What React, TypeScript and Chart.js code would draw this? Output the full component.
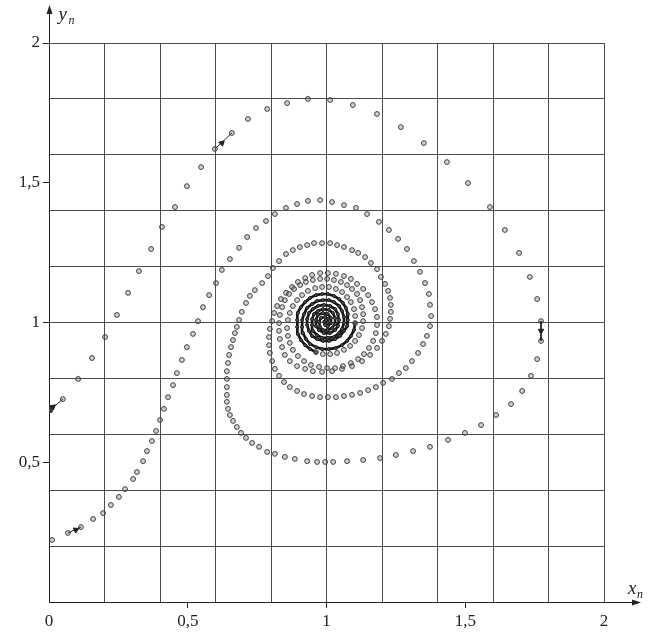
import React, { useEffect, useRef } from "react";
import { Chart, registerables } from "chart.js";

Chart.register(...registerables);

// Axis ticks (grid every 0,2; labels every 0,5)
const tickValues = [0, 0.2, 0.4, 0.5, 0.6, 0.8, 1, 1.2, 1.4, 1.5, 1.6, 1.8, 2];
const xLabelValues = [0, 0.5, 1, 1.5, 2];
const xLabelTexts = ["0", "0,5", "1", "1,5", "2"];
const yLabelValues = [0.5, 1, 1.5, 2];
const yLabelTexts = ["0,5", "1", "1,5", "2"];

// Trajectory A (starts at x≈0, y≈0,69) - individually visible points
const aOuterX = [0.004,0.050,0.105,0.155,0.202,0.245,0.285,0.324,0.368,0.407,0.454,0.497,0.548,0.598,0.659,0.717,0.786,0.858,0.933,1.013,1.095,1.182,1.268,1.351,1.434,1.510,1.589,1.643,1.694,1.733,1.759,1.773,1.773,1.759,1.737,1.705,1.665,1.611,1.557,1.499,1.438,1.373,1.312,1.250,1.193,1.132,1.074,1.024,0.995,0.966,0.930,0.886,0.850,0.814,0.786,0.757,0.732,0.710,0.692,0.677,0.663,0.652,0.645,0.641,0.641,0.641,0.641,0.641,0.645,0.649,0.656,0.663,0.670,0.677,0.685,0.695,0.710,0.724,0.742,0.768,0.789,0.807,0.829,0.854,0.879,0.904,0.930,0.955,0.984,1.013,1.038,1.063,1.092,1.114,1.139,1.160,1.182,1.196,1.211,1.222,1.229,1.232,1.232,1.229,1.225,1.214,1.200,1.182,1.157,1.128,1.092,1.056,1.020,0.984,0.951,0.923,0.894,0.868,0.850,0.840,0.832,0.829,0.829,0.832,0.840,0.850,0.865,0.883,0.905,0.926,0.951,0.977,1.002,1.027,1.052,1.074,1.092,1.110,1.121,1.128,1.132,1.132,1.128,1.117,1.103,1.085,1.063,1.038,1.013,0.987,0.962];
const aOuterY = [0.687,0.726,0.798,0.873,0.948,1.027,1.106,1.184,1.263,1.342,1.413,1.488,1.556,1.621,1.678,1.728,1.764,1.785,1.800,1.796,1.778,1.746,1.699,1.642,1.574,1.499,1.413,1.331,1.249,1.163,1.084,1.005,0.934,0.869,0.809,0.755,0.708,0.669,0.633,0.605,0.580,0.555,0.540,0.526,0.515,0.508,0.504,0.501,0.501,0.501,0.504,0.512,0.519,0.530,0.537,0.555,0.569,0.587,0.605,0.626,0.648,0.669,0.691,0.716,0.741,0.769,0.798,0.826,0.855,0.884,0.912,0.937,0.962,0.984,1.009,1.038,1.070,1.095,1.116,1.141,1.166,1.195,1.220,1.245,1.259,1.270,1.277,1.284,1.284,1.284,1.277,1.270,1.259,1.249,1.234,1.213,1.191,1.163,1.138,1.113,1.088,1.063,1.038,1.013,0.987,0.959,0.934,0.909,0.884,0.862,0.844,0.834,0.826,0.823,0.826,0.834,0.844,0.862,0.884,0.912,0.941,0.970,0.998,1.027,1.055,1.080,1.102,1.120,1.134,1.145,1.152,1.156,1.156,1.152,1.145,1.134,1.120,1.102,1.080,1.055,1.030,1.005,0.980,0.955,0.934,0.916,0.902,0.891,0.887,0.887,0.894];

// Trajectory A - dense centre (points merge into a thick curve)
const aInnerX = [0.962,0.941,0.923,0.908,0.897,0.894,0.894,0.897,0.908,0.923,0.941,0.962,0.984,1.005,1.027,1.045,1.059,1.070,1.077,1.077,1.074,1.063,1.049,1.031,1.009,0.987,0.966,0.948,0.937,0.930,0.930,0.937,0.951,0.969,0.991,1.013,1.031,1.041,1.045,1.041,1.031,1.013,0.991,0.973,0.962,0.962,0.969,0.987,1.005,1.016,1.016,1.005,0.995,0.991,0.998];
const aInnerY = [0.894,0.905,0.919,0.937,0.959,0.984,1.009,1.034,1.055,1.073,1.088,1.098,1.102,1.102,1.095,1.084,1.070,1.052,1.030,1.009,0.987,0.970,0.952,0.941,0.934,0.934,0.941,0.952,0.970,0.991,1.012,1.034,1.048,1.059,1.063,1.059,1.048,1.030,1.009,0.987,0.973,0.962,0.962,0.973,0.987,1.009,1.027,1.034,1.030,1.016,0.998,0.987,0.991,1.002,1.009];

// Trajectory B (starts at x≈0, y≈0,22)
const bOuterX = [0.011,0.068,0.115,0.159,0.195,0.223,0.252,0.274,0.303,0.317,0.339,0.353,0.371,0.386,0.400,0.414,0.429,0.447,0.461,0.479,0.497,0.519,0.537,0.555,0.577,0.602,0.623,0.652,0.685,0.714,0.746,0.782,0.814,0.854,0.894,0.933,0.977,1.020,1.063,1.106,1.146,1.189,1.225,1.258,1.290,1.315,1.337,1.355,1.369,1.373,1.377,1.373,1.362,1.348,1.330,1.308,1.286,1.261,1.236,1.204,1.178,1.150,1.121,1.092,1.063,1.034,1.005,0.977,0.948,0.919,0.894,0.868,0.847,0.829,0.814,0.804,0.796,0.793,0.793,0.796,0.804,0.811,0.822,0.836,0.854,0.876,0.897,0.923,0.948,0.977,1.005,1.034,1.063,1.088,1.110,1.132,1.150,1.164,1.175,1.182,1.182,1.178,1.168,1.153,1.135,1.114,1.088,1.059,1.031,1.002,0.973,0.944,0.919,0.897,0.879,0.868,0.861,0.858,0.861,0.868,0.879,0.894,0.912,0.933,0.959,0.984,1.009,1.034,1.056,1.074,1.088,1.099,1.103,1.103];
const bOuterY = [0.222,0.247,0.268,0.297,0.318,0.347,0.376,0.404,0.440,0.465,0.504,0.540,0.576,0.612,0.651,0.691,0.733,0.776,0.819,0.866,0.912,0.959,1.005,1.055,1.098,1.141,1.188,1.227,1.267,1.306,1.338,1.363,1.388,1.410,1.424,1.435,1.438,1.431,1.420,1.410,1.388,1.360,1.331,1.299,1.263,1.220,1.181,1.141,1.102,1.063,1.023,0.987,0.952,0.923,0.891,0.862,0.837,0.819,0.798,0.784,0.769,0.758,0.748,0.741,0.737,0.733,0.733,0.733,0.737,0.744,0.755,0.769,0.787,0.809,0.834,0.862,0.891,0.919,0.948,0.977,1.005,1.034,1.059,1.084,1.106,1.127,1.145,1.159,1.170,1.177,1.177,1.174,1.166,1.156,1.138,1.120,1.098,1.073,1.048,1.020,0.991,0.962,0.934,0.909,0.887,0.869,0.855,0.844,0.837,0.837,0.841,0.848,0.862,0.880,0.902,0.927,0.952,0.980,1.009,1.034,1.059,1.080,1.098,1.113,1.123,1.127,1.127,1.120,1.109,1.091,1.073,1.048,1.023,0.998];

// Trajectory B - dense centre
const bInnerX = [1.103,1.099,1.088,1.074,1.056,1.034,1.009,0.984,0.962,0.941,0.926,0.915,0.912,0.912,0.919,0.930,0.948,0.966,0.987,1.009,1.027,1.045,1.056,1.063,1.063,1.056,1.045,1.027,1.005,0.984,0.966,0.951,0.948,0.948,0.955,0.969,0.987,1.009,1.023,1.031,1.031,1.020,1.005,0.987,0.977,0.973,0.980,0.995,1.005,1.005,0.998];
const bInnerY = [0.998,0.973,0.952,0.934,0.919,0.909,0.905,0.905,0.912,0.923,0.941,0.962,0.984,1.009,1.030,1.052,1.066,1.077,1.080,1.080,1.073,1.059,1.041,1.020,0.998,0.977,0.962,0.948,0.945,0.945,0.955,0.970,0.991,1.012,1.030,1.041,1.048,1.045,1.034,1.016,0.995,0.980,0.973,0.973,0.984,1.002,1.016,1.020,1.012,0.998,0.995];

// Direction arrows drawn on the first steps
const arrowStartX = [0.004, 0.068, 0.598, 1.773];
const arrowStartY = [0.687, 0.247, 1.621, 1.005];
const arrowEndX = [0.050, 0.115, 0.659, 1.773];
const arrowEndY = [0.726, 0.268, 1.678, 0.934];
const arrowHeadX = [0.014, 0.097, 0.623, 1.773];
const arrowHeadY = [0.698, 0.258, 1.642, 0.970];
const arrowHeadAngle = [50, 65, 47, 180];

const toPoints = (xs: number[], ys: number[]) => xs.map((x, i) => ({ x, y: ys[i] }));
const isGrid = (v: number) => Math.abs(v * 5 - Math.round(v * 5)) < 1e-6;
const labelFor = (v: number, vals: number[], texts: string[]) => {
  const i = vals.findIndex((t) => Math.abs(t - v) < 1e-6);
  return i >= 0 ? texts[i] : "";
};

const INK = "#222";
const GRID = "rgba(45,45,45,0.85)";
const FONT = "'Liberation Serif', 'DejaVu Serif', serif";

const axisArrows = {
  id: "axisArrows",
  afterDraw(chart: any) {
    const { ctx } = chart;
    const xs = chart.scales.x;
    const ys = chart.scales.y;
    const x0 = Math.round(xs.getPixelForValue(0)) + 0.5;
    const y0 = Math.round(ys.getPixelForValue(0)) + 0.5;
    const xEnd = xs.right + 34;
    const yEnd = ys.top - 35;
    ctx.save();
    ctx.strokeStyle = INK;
    ctx.fillStyle = INK;
    ctx.lineWidth = 1;
    ctx.beginPath();
    ctx.moveTo(xs.right, y0);
    ctx.lineTo(xEnd, y0);
    ctx.moveTo(x0, ys.top);
    ctx.lineTo(x0, yEnd);
    ctx.stroke();
    ctx.beginPath();
    ctx.moveTo(xEnd + 3, y0);
    ctx.lineTo(xEnd - 6, y0 - 3);
    ctx.lineTo(xEnd - 6, y0 + 3);
    ctx.closePath();
    ctx.fill();
    ctx.beginPath();
    ctx.moveTo(x0, yEnd - 3);
    ctx.lineTo(x0 - 3, yEnd + 6);
    ctx.lineTo(x0 + 3, yEnd + 6);
    ctx.closePath();
    ctx.fill();
    ctx.textAlign = "left";
    ctx.textBaseline = "alphabetic";
    ctx.font = `italic 19px ${FONT}`;
    ctx.fillText("x", xEnd - 10, y0 - 9);
    ctx.fillText("y", x0 + 9, yEnd + 12);
    ctx.font = `italic 12px ${FONT}`;
    ctx.fillText("n", xEnd - 1, y0 - 5);
    ctx.fillText("n", x0 + 19, yEnd + 16);
    ctx.restore();
  },
};

export default function App() {
  const ref = useRef<HTMLCanvasElement | null>(null);
  useEffect(() => {
    document.body.style.margin = "0";
    const canvas = ref.current;
    if (!canvas) return;
    const pointStyle = {
      showLine: false,
      pointRadius: 2.4,
      pointBorderWidth: 1,
      pointBorderColor: "#3a3a3a",
      pointBackgroundColor: "rgba(130,130,130,0.35)",
    };
    const innerStyle = {
      showLine: true,
      borderColor: "#151515",
      borderWidth: 2.7,
      pointRadius: 1.5,
      pointBorderWidth: 1,
      pointBorderColor: "#1a1a1a",
      pointBackgroundColor: "#555",
    };
    const segments = arrowStartX.map((_, i) => ({
      data: [
        { x: arrowStartX[i], y: arrowStartY[i] },
        { x: arrowEndX[i], y: arrowEndY[i] },
      ],
      showLine: true,
      borderColor: INK,
      borderWidth: 1,
      pointRadius: 0,
    }));
    const chart = new Chart(canvas, {
      type: "scatter",
      data: {
        datasets: [
          ...segments,
          { data: toPoints(aOuterX, aOuterY), ...pointStyle },
          { data: toPoints(bOuterX, bOuterY), ...pointStyle },
          { data: toPoints(aInnerX, aInnerY), ...innerStyle },
          { data: toPoints(bInnerX, bInnerY), ...innerStyle },
          {
            data: toPoints(arrowHeadX, arrowHeadY),
            showLine: false,
            pointStyle: "triangle",
            pointRadius: 3.2,
            pointRotation: arrowHeadAngle,
            pointBackgroundColor: INK,
            pointBorderColor: INK,
            pointBorderWidth: 1,
          },
          {
            data: [{ x: aOuterX[0], y: aOuterY[0] }],
            showLine: false,
            pointRadius: 2.6,
            pointBackgroundColor: INK,
            pointBorderColor: INK,
          },
        ] as any,
      },
      options: {
        animation: false,
        responsive: false,
        events: [],
        layout: { padding: { top: 43, right: 51, left: 0, bottom: 0 } },
        plugins: { legend: { display: false }, tooltip: { enabled: false } },
        scales: {
          x: {
            type: "linear",
            min: 0,
            max: 2,
            afterBuildTicks: (s: any) => {
              s.ticks = tickValues.map((v) => ({ value: v }));
            },
            afterFit: (s: any) => {
              s.height = 30;
            },
            grid: {
              color: (c: any) => (c.tick && isGrid(c.tick.value) ? GRID : "rgba(0,0,0,0)"),
              lineWidth: 1,
              drawTicks: true,
              tickLength: 6,
              tickColor: (c: any) =>
                c.tick && [0.5, 1, 1.5].some((t) => Math.abs(t - c.tick.value) < 1e-6) ? INK : "rgba(0,0,0,0)",
            },
            border: { display: true, color: INK, width: 1 },
            ticks: {
              autoSkip: false,
              maxRotation: 0,
              padding: 3,
              color: INK,
              font: { family: FONT, size: 17 },
              callback: (v: any) => labelFor(Number(v), xLabelValues, xLabelTexts),
            },
          },
          y: {
            type: "linear",
            min: 0,
            max: 2,
            afterBuildTicks: (s: any) => {
              s.ticks = tickValues.map((v) => ({ value: v }));
            },
            afterFit: (s: any) => {
              s.width = 49;
            },
            grid: {
              color: (c: any) => (c.tick && isGrid(c.tick.value) ? GRID : "rgba(0,0,0,0)"),
              lineWidth: 1,
              drawTicks: true,
              tickLength: 6,
              tickColor: (c: any) =>
                c.tick && [0.5, 1, 1.5, 2].some((t) => Math.abs(t - c.tick.value) < 1e-6) ? INK : "rgba(0,0,0,0)",
            },
            border: { display: true, color: INK, width: 1 },
            ticks: {
              autoSkip: false,
              padding: 3,
              color: INK,
              font: { family: FONT, size: 17 },
              callback: (v: any) => labelFor(Number(v), yLabelValues, yLabelTexts),
            },
          },
        },
      } as any,
      plugins: [axisArrows],
    });
    return () => chart.destroy();
  }, []);
  return <canvas ref={ref} width={655} height={632} style={{ display: "block" }} />;
}
